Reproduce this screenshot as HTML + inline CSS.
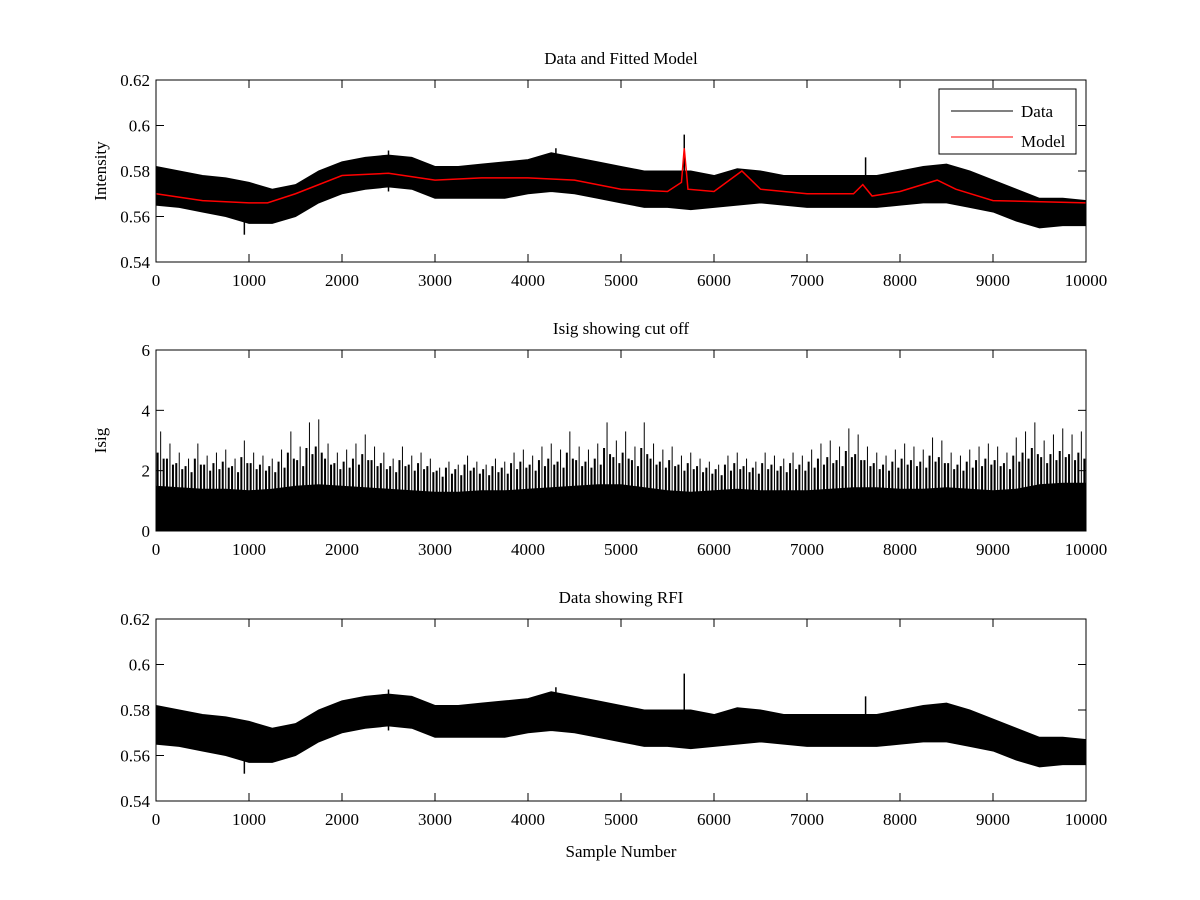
<!DOCTYPE html>
<html><head><meta charset="utf-8"><style>
body{margin:0;background:#fff}
svg{display:block;font-family:"Liberation Serif",serif;font-size:17px}
</style></head><body>
<svg id="fig" width="1200" height="900"></svg>
<script>
const xSteps=[0,250,500,750,1000,1250,1500,1750,2000,2250,2500,2750,3000,3250,3500,3750,4000,4250,4500,4750,5000,5250,5500,5750,6000,6250,6500,6750,7000,7250,7500,7750,8000,8250,8500,8750,9000,9250,9500,9750,10000];
const dataUpper=[0.582,0.580,0.578,0.577,0.575,0.572,0.574,0.580,0.584,0.586,0.587,0.586,0.582,0.582,0.583,0.584,0.585,0.588,0.586,0.584,0.582,0.580,0.580,0.580,0.578,0.581,0.580,0.578,0.578,0.578,0.578,0.578,0.580,0.582,0.583,0.580,0.576,0.572,0.568,0.568,0.567];
const dataLower=[0.565,0.564,0.562,0.560,0.557,0.557,0.560,0.566,0.570,0.572,0.573,0.572,0.568,0.568,0.568,0.568,0.570,0.571,0.570,0.568,0.566,0.564,0.564,0.563,0.564,0.565,0.566,0.565,0.564,0.564,0.564,0.564,0.565,0.566,0.566,0.564,0.562,0.558,0.555,0.556,0.556];
const spikeX=[5680,7630,950,2500,4300];
const spikeY=[0.596,0.586,0.552,0.589,0.590];
const modelX=[0,500,1000,1200,1500,2000,2500,3000,3500,4000,4500,5000,5500,5650,5680,5720,6000,6300,6500,7000,7500,7600,7700,8000,8400,8600,9000,10000];
const modelY=[0.570,0.567,0.566,0.566,0.570,0.578,0.579,0.576,0.577,0.577,0.576,0.572,0.571,0.575,0.590,0.572,0.571,0.580,0.572,0.570,0.570,0.574,0.569,0.571,0.576,0.572,0.567,0.566];
const isigDense=[1.5,1.45,1.4,1.4,1.35,1.4,1.5,1.55,1.5,1.45,1.4,1.35,1.3,1.3,1.35,1.35,1.4,1.45,1.5,1.55,1.55,1.45,1.35,1.3,1.35,1.4,1.35,1.35,1.35,1.4,1.45,1.45,1.4,1.4,1.45,1.4,1.35,1.4,1.55,1.6,1.6];
const isigPeaks=[3.3,2.9,2.6,2.4,2.9,2.5,2.6,2.7,2.4,3.0,2.6,2.5,2.4,2.7,3.3,2.8,3.6,3.7,2.9,2.6,2.7,2.9,3.2,2.8,2.6,2.4,2.8,2.5,2.6,2.4,2.1,2.3,2.2,2.5,2.3,2.2,2.4,2.3,2.6,2.7,2.5,2.8,2.9,2.7,3.3,2.8,2.7,2.9,3.6,3.0,3.3,2.8,3.6,2.9,2.7,2.8,2.5,2.6,2.4,2.3,2.2,2.5,2.6,2.4,2.3,2.6,2.5,2.4,2.6,2.5,2.7,2.9,3.0,2.8,3.4,3.2,2.8,2.6,2.5,2.7,2.9,2.8,2.7,3.1,3.0,2.6,2.5,2.7,2.8,2.9,2.8,2.6,3.1,3.3,3.6,3.0,3.2,3.4,3.2,3.3];
const xTicks=[0,1000,2000,3000,4000,5000,6000,7000,8000,9000,10000];
const intTicks=[0.54,0.56,0.58,0.6,0.62];
const isigTicks=[0,2,4,6];

const NS='http://www.w3.org/2000/svg';
const svg=document.getElementById('fig');
function el(t,a,p){const e=document.createElementNS(NS,t);for(const k in a)e.setAttribute(k,a[k]);(p||svg).appendChild(e);return e;}
const X0=156,X1=1086;
const sx=v=>X0+(v/10000)*(X1-X0);

function panel(name,top,bot,ymin,ymax,yt,fmt,title,ylabel,xlabel){
  const g=el('g',{});
  
  
  const sy=v=>bot-(v-ymin)/(ymax-ymin)*(bot-top);
  return {g,sy,finish(){
    const fr=el('rect',{x:X0,y:top,width:X1-X0,height:bot-top,fill:'none',stroke:'#000','stroke-width':1},g);
    
    xTicks.forEach(t=>{const x=sx(t);
      el('line',{x1:x,x2:x,y1:bot,y2:bot-8,stroke:'#000'},g);
      el('line',{x1:x,x2:x,y1:top,y2:top+8,stroke:'#000'},g);
      const tx=el('text',{x:x,y:bot+24,'text-anchor':'middle'},g);tx.textContent=t;
      });
    yt.forEach(t=>{const y=sy(t);
      el('line',{x1:X0,x2:X0+8,y1:y,y2:y,stroke:'#000'},g);
      el('line',{x1:X1,x2:X1-8,y1:y,y2:y,stroke:'#000'},g);
      const tx=el('text',{x:X0-6,y:y+6,'text-anchor':'end'},g);tx.textContent=fmt(t);
      });
    const tt=el('text',{x:(X0+X1)/2,y:top-16,'text-anchor':'middle'},g);tt.textContent=title;
    
    const yl=el('text',{x:0,y:0,'text-anchor':'middle',transform:`translate(${X0-50},${(top+bot)/2}) rotate(-90)`},g);yl.textContent=ylabel;
    
    if(xlabel){const xl=el('text',{x:(X0+X1)/2,y:bot+56,'text-anchor':'middle'},g);xl.textContent=xlabel;
      }
  }};
}
const fmtI=t=>String(+t.toFixed(2));

function band(p,name){
  let d='M'+xSteps.map((x,i)=>sx(x)+','+p.sy(dataUpper[i])).join(' L');
  for(let i=xSteps.length-1;i>=0;i--) d+=' L'+sx(xSteps[i])+','+p.sy(dataLower[i]);
  const b=el('path',{d:d+'Z',fill:'#000',stroke:'#000','stroke-width':1},p.g);
  
  spikeX.forEach((x,i)=>{const s=el('line',{x1:sx(x),x2:sx(x),y1:p.sy(spikeY[i]),y2:p.sy(0.571),stroke:'#000','stroke-width':1.5},p.g);
    });
}

// top
const p1=panel('data-model-panel',80,262,0.54,0.62,intTicks,fmtI,'Data and Fitted Model','Intensity');
band(p1,'data-series');
const m=el('polyline',{points:modelX.map((x,i)=>sx(x)+','+p1.sy(modelY[i])).join(' '),fill:'none',stroke:'#f00','stroke-width':1.5},p1.g);

p1.finish();
const lg=el('g',{},p1.g);
el('rect',{x:939,y:89,width:137,height:65,fill:'#fff',stroke:'#000'},lg);
el('line',{x1:951,x2:1013,y1:111,y2:111,stroke:'#000'},lg);
el('line',{x1:951,x2:1013,y1:137,y2:137,stroke:'#f00'},lg);
let t=el('text',{x:1021,y:117},lg);t.textContent='Data';
t=el('text',{x:1021,y:147},lg);t.textContent='Model';

// middle
const p2=panel('isig-panel',350,531,0,6,isigTicks,v=>v,'Isig showing cut off','Isig');
let d='M'+sx(0)+','+p2.sy(0)+' '+xSteps.map((x,i)=>'L'+sx(x)+','+p2.sy(isigDense[i])).join(' ')+' L'+sx(10000)+','+p2.sy(0)+'Z';
const ib=el('path',{d:d,fill:'#000'},p2.g);
isigPeaks.forEach((v,i)=>{
  const x=sx(i*100+50);
  const s=el('line',{x1:x,x2:x,y1:p2.sy(v),y2:p2.sy(0),stroke:'#000','stroke-width':1},p2.g);
  
  const s2=el('line',{x1:x-3,x2:x-3,y1:p2.sy((v+1.5)/2+0.2),y2:p2.sy(0),stroke:'#000','stroke-width':2},p2.g);
  
  const s3=el('line',{x1:x+3,x2:x+3,y1:p2.sy((v+1.5)/2),y2:p2.sy(0),stroke:'#000','stroke-width':2},p2.g);
  
});
p2.finish();

// bottom
const p3=panel('rfi-panel',619,801,0.54,0.62,intTicks,fmtI,'Data showing RFI','','Sample Number');
band(p3,'rfi-data-series');
p3.finish();
</script>
</body></html>
